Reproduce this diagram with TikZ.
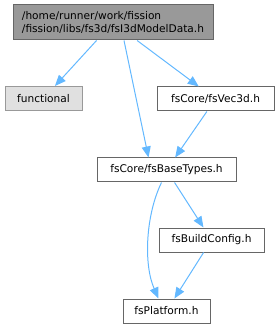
\documentclass[tikz,border=0pt]{standalone}
\usepackage{fontspec}
\setmainfont{DejaVu Sans}
\definecolor{dxedge}{RGB}{99,184,255}
\definecolor{dxdark}{RGB}{102,102,102}
\definecolor{dxgray}{RGB}{153,153,153}
\definecolor{dxlight}{RGB}{224,224,224}
\usetikzlibrary{arrows.meta,positioning,calc}
\begin{document}
\begin{tikzpicture}[x=1pt,y=-1pt,
  file/.style={draw=dxdark,fill=white,line width=1pt,minimum height=24pt,
    inner sep=0pt,font=\fontsize{10.6}{12.5}\selectfont},
  dep/.style={draw=dxedge,line width=1pt,-{Triangle[length=11pt,width=9pt]}}
]
  \useasboundingbox (0,0) rectangle (277,328);
  % main file
  \node[file,fill=dxgray,minimum width=200pt,minimum height=35pt,align=left] (top) at (113,22.5)
    {/home/runner/work/fission\\/fission/libs/fs3d/fsI3dModelData.h};
  % includes
  \node[file,draw=dxgray,fill=dxlight,minimum width=77pt] (functional) at (43.5,98.5) {functional};
  \node[file,minimum width=117pt] (vec3d) at (215.5,99) {fsCore/fsVec3d.h};
  \node[file,minimum width=139pt] (basetypes) at (166.5,170) {fsCore/fsBaseTypes.h};
  \node[file,minimum width=105pt] (buildconfig) at (211.5,240) {fsBuildConfig.h};
  \node[file,minimum width=87pt] (platform) at (166.5,311) {fsPlatform.h};
  % edges
  \draw[dep] (top) -- (functional);
  \draw[dep] ([xshift=11pt]top.south) -- ([xshift=-18pt]basetypes.north);
  \draw[dep] (top) -- (vec3d);
  \draw[dep] (vec3d) -- (basetypes);
  \draw[dep] ([xshift=-5pt]basetypes.south) .. controls ($(basetypes.south)+(-21,33)$)
    and ($(platform.north)+(-23,-34)$) .. ([xshift=-8pt]platform.north);
  \draw[dep] (basetypes) -- (buildconfig);
  \draw[dep] (buildconfig) -- (platform);
\end{tikzpicture}
\end{document}
